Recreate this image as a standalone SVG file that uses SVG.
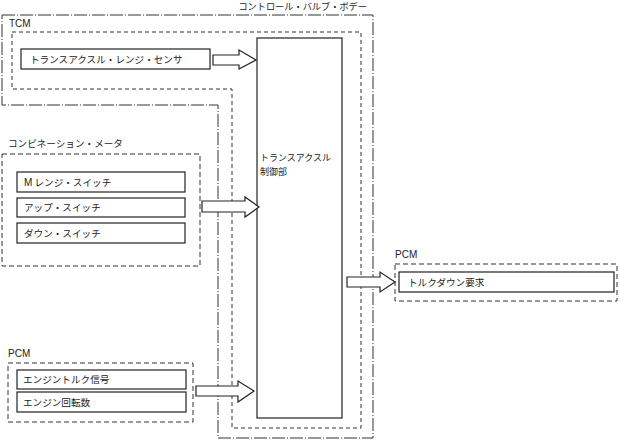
<svg xmlns="http://www.w3.org/2000/svg" width="624" height="440" viewBox="0 0 624 440">
<style>
text{font-family:"Noto Sans CJK JP","Liberation Sans",sans-serif;font-size:9.6px;fill:#222}
.lat{font-family:"Liberation Sans","Noto Sans CJK JP",sans-serif;font-size:10px}
.blk{font-size:9px}
.box{fill:#fff;stroke:#222;stroke-width:1.2}
.dash{fill:none;stroke:#333;stroke-width:1;stroke-dasharray:5 3}
.dash2{fill:none;stroke:#333;stroke-width:1;stroke-dasharray:4 3}
.dd{fill:none;stroke:#333;stroke-width:1;stroke-dasharray:13 2 1 2}
.arr{fill:#fff;stroke:#222;stroke-width:1.2;stroke-linejoin:miter}
</style>
<rect width="624" height="440" fill="#fff"/>
<g id="valve-body">
<path class="dd" d="M2,15 H373 V438 H218 V105 H2 Z"/>
<text x="367" y="10" text-anchor="end" style="font-size:9.2px">コントロール・バルブ・ボデー</text>
</g>
<g id="tcm">
<path class="dash2" d="M12,32 H361 V428 H232 V89 H12 Z"/>
<text class="lat" x="9" y="27">TCM</text>
</g>
<g id="range-sensor">
<rect class="box" x="21" y="49" width="189" height="20"/>
<text x="30" y="63">トランスアクスル・レンジ・センサ</text>
</g>
<g id="controller">
<rect class="box" x="257" y="38" width="85" height="380"/>
<text class="blk" x="260" y="161">トランスアクスル</text>
<text class="blk" x="260" y="175">制御部</text>
</g>
<g id="combination-meter">
<rect class="dash" x="2" y="154" width="198" height="112"/>
<text x="8" y="147">コンビネーション・メータ</text>
</g>
<g id="m-range-switch">
<rect class="box" x="17" y="172" width="168" height="20"/>
<text x="24" y="186"><tspan class="lat">M</tspan> レンジ・スイッチ</text>
</g>
<g id="up-switch">
<rect class="box" x="17" y="198" width="168" height="19"/>
<text x="24" y="211">アップ・スイッチ</text>
</g>
<g id="down-switch">
<rect class="box" x="17" y="223" width="168" height="20"/>
<text x="24" y="237">ダウン・スイッチ</text>
</g>
<g id="pcm-in">
<rect class="dash" x="8" y="363" width="185" height="59"/>
<text class="lat" x="8" y="357">PCM</text>
</g>
<g id="engine-torque">
<rect class="box" x="17" y="370" width="169" height="19"/>
<text x="23" y="383">エンジントルク信号</text>
</g>
<g id="engine-speed">
<rect class="box" x="17" y="392" width="169" height="20"/>
<text x="23" y="406">エンジン回転数</text>
</g>
<g id="pcm-out">
<rect class="dash" x="395" y="264" width="222" height="37"/>
<text class="lat" x="395" y="258">PCM</text>
</g>
<g id="torque-down">
<rect class="box" x="399" y="272" width="215" height="20"/>
<text x="408" y="286">トルクダウン要求</text>
</g>
<g id="connectors">
<path class="arr" d="M213,55 H239 V50 L256,60 L239,69 V65 H213 Z"/>
<path class="arr" d="M202,201 H245 V197 L259,207 L245,217 V212 H202 Z"/>
<path class="arr" d="M196,386 H238 V381 L254,391 L238,402 V396 H196 Z"/>
<path class="arr" d="M347,277 H380 V272 L395,282 L380,292 V287 H347 Z"/>
</g>
</svg>
